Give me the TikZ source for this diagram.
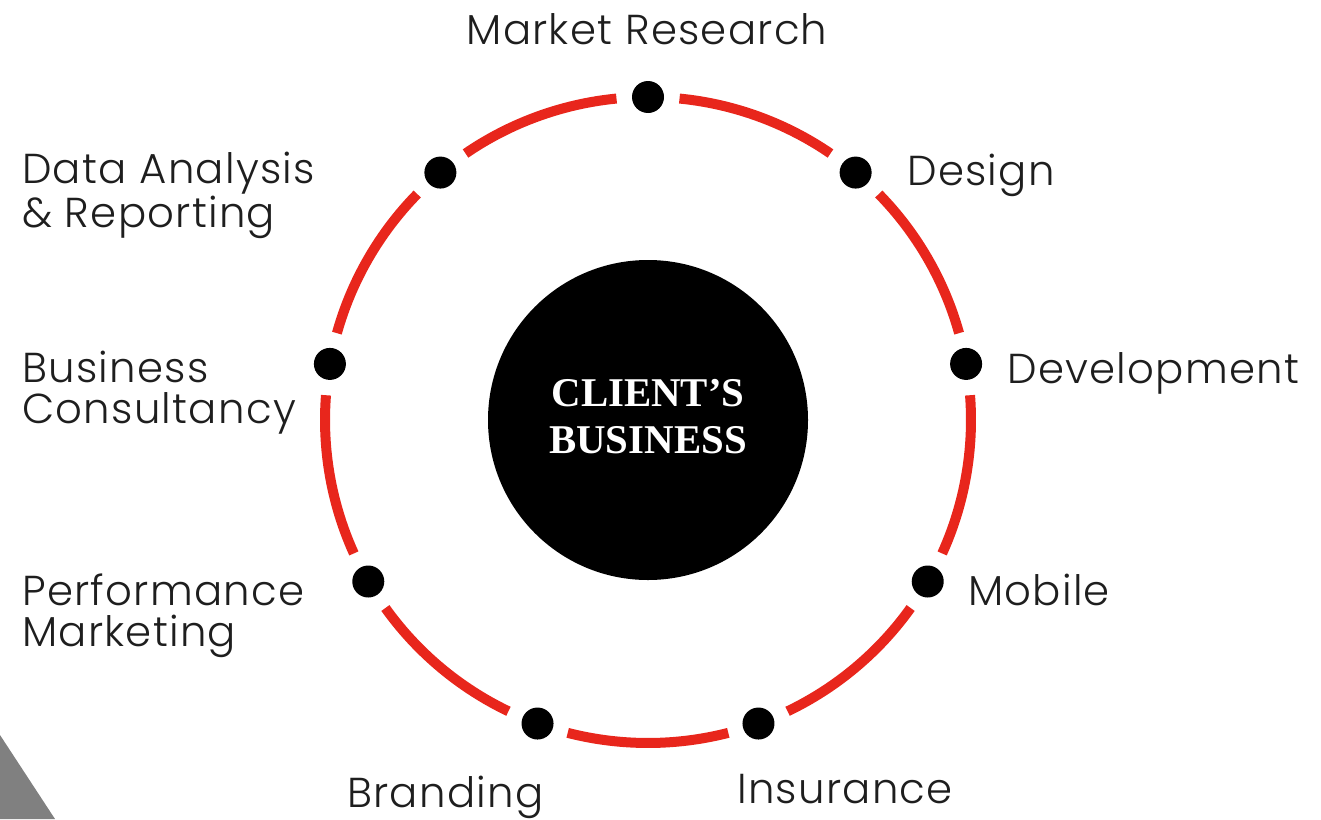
\documentclass[tikz,border=0pt]{standalone}
\usepackage{fontspec}
\setmainfont{Poppins Light}[LetterSpace=3]
\newfontfamily\centerfont{Liberation Serif}
\usetikzlibrary{calc}
\definecolor{ringred}{HTML}{E8261C}
\definecolor{labelgray}{HTML}{1E1E1E}
\begin{document}
\begin{tikzpicture}[x=1bp,y=1bp,
  ring/.style={draw=ringred,line width=10bp,line cap=butt},
  dot/.style={circle,fill=black,inner sep=0pt,minimum size=32bp},
  lbl/.style={anchor=base west,inner sep=0pt,text=labelgray,font=\fontsize{42}{41}\selectfont,align=left}]
\useasboundingbox (0,0) rectangle (1321,-819);
% corner wedge
\fill[black!50] (0,-735) -- (55,-819) -- (0,-819) -- cycle;
\coordinate (c) at (648,-420);
% hub
\node[circle,fill=black,minimum size=320bp,inner sep=0pt] (hub) at (c) {};
\node[align=center,text=white,inner sep=0pt,
  font=\centerfont\bfseries\fontsize{41}{47}\selectfont] (hubtext) at ([yshift=3bp]hub.center) {CLIENT’S\\BUSINESS};
% ring segments between the dots
\foreach \a in {90,50,10,-30,-70,-110,-150,170,130}{
  \draw[ring] ($(c)+(\a-5.6:323)$) arc[start angle=\a-5.6, end angle=\a-34.4, radius=323];
}
% dots
\foreach \a/\n in {90/mr,50/de,10/dv,-30/mo,-70/in,-110/br,-150/pm,170/bc,130/da}{
  \node[dot] (\n) at ($(c)+(\a:323)$) {};
}
% labels
\node[lbl,anchor=base] (tmr) at (647,-45) {Market Research};
\node[lbl] (tde) at (907,-185) {Design};
\node[lbl] (tdv) at (1007,-383) {Development};
\node[lbl] (tmo) at (968,-605) {Mobile};
\node[lbl] (tin) at (737,-803) {Insurance};
\node[lbl] (tbr) at (347,-807) {Branding};
\node[lbl] (tda) at (22,-227) {Data Analysis\\\& Reporting};
\node[lbl] (tbc) at (22,-423) {Business\\Consultancy};
\node[lbl] (tpm) at (22,-646) {Performance\\Marketing};
\end{tikzpicture}
\end{document}
